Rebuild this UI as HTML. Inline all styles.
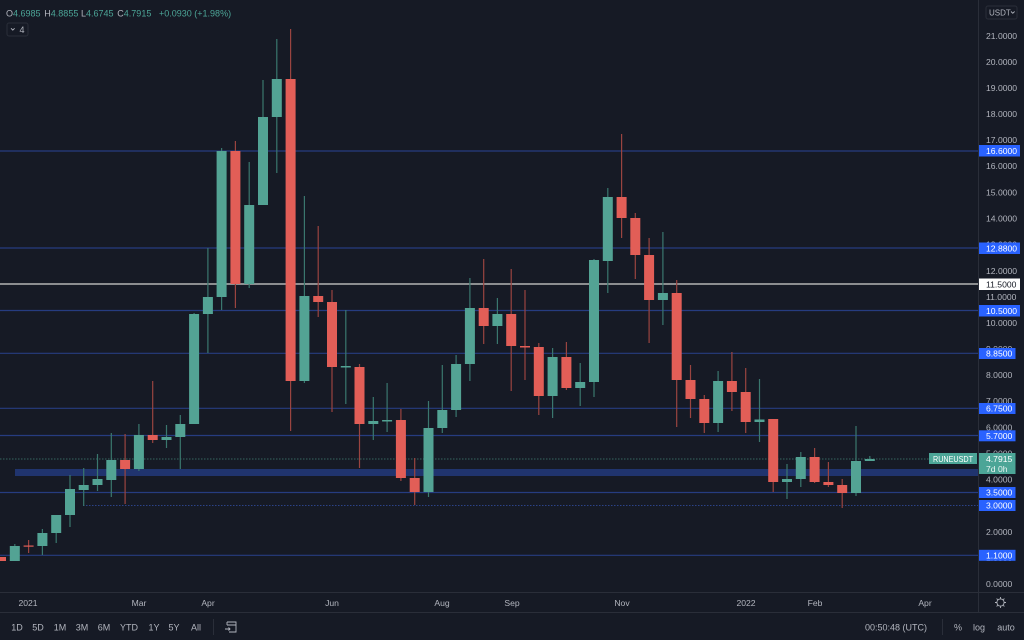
<!DOCTYPE html>
<html><head><meta charset="utf-8"><style>
html,body{margin:0;padding:0;background:#161a25;}
svg{display:block;font-family:"Liberation Sans",sans-serif;}
</style></head><body>
<svg width="1024" height="640" viewBox="0 0 1024 640" xmlns="http://www.w3.org/2000/svg">
<rect width="1024" height="640" fill="#161a25"/>
<!-- separators -->
<line x1="978.5" y1="0" x2="978.5" y2="612" stroke="#2a2e39" stroke-width="1"/>
<line x1="0" y1="592.5" x2="1024" y2="592.5" stroke="#2a2e39" stroke-width="1"/>
<line x1="0" y1="612.5" x2="1024" y2="612.5" stroke="#2a2e39" stroke-width="1"/>

<!-- horizontal levels -->
<g stroke="#263c80" stroke-width="1.2">
<line x1="0" y1="151" x2="978" y2="151"/>
<line x1="0" y1="248" x2="978" y2="248"/>
<line x1="0" y1="310.5" x2="978" y2="310.5"/>
<line x1="0" y1="353.3" x2="978" y2="353.3"/>
<line x1="0" y1="408.3" x2="978" y2="408.3"/>
<line x1="0" y1="435.5" x2="978" y2="435.5"/>
<line x1="0" y1="492.5" x2="978" y2="492.5"/>
<line x1="0" y1="555.3" x2="978" y2="555.3"/>
</g>
<line x1="83" y1="505.5" x2="978" y2="505.5" stroke="#2b4288" stroke-width="1" stroke-dasharray="1.5,1.5"/>
<rect x="15" y="469" width="963" height="7" fill="#20346e"/>
<line x1="0" y1="284" x2="978" y2="284" stroke="#b4b4b4" stroke-width="1.6"/>
<line x1="0" y1="459" x2="978" y2="459" stroke="#35665f" stroke-width="1" stroke-dasharray="1.5,1.5"/>

<!-- wicks -->
<path stroke="#3a776e" stroke-width="1.2" fill="none" d="
M14.8 544V561 M42.4 529V555 M56.2 515V543 M70 475V527 M83.7 468V506 M97.5 454V491 M111.3 433V497
M138.9 424V471 M166.5 425V448 M180.3 415V469 M194.1 313V424 M207.9 248V353 M221.6 148V310
M249.2 162V288 M263 80V205 M276.8 39V173 M304.4 196V383 M345.8 310V404 M373.3 397V440 M387.1 383V432
M428.5 401V497 M442.3 365V433 M456.1 355V417 M469.9 278V381 M497.4 298V344 M552.6 348V418
M580.2 363V406 M594 259V397 M607.8 188V293 M662.9 232V325 M718.1 371V432 M759.5 379V442
M787 464V499 M800.8 452V487 M856 426V496 M869.8 456V461"/>
<path stroke="#9a4440" stroke-width="1.2" fill="none" d="
M28.6 540V553 M125.1 434V504 M152.7 381V443 M235.4 141V308 M290.6 29V431 M318.2 226V317
M332 290V412 M359.5 364V468 M400.9 409V481 M414.7 458V505 M483.7 259V344 M511.2 269V391
M525 290V380 M538.8 343V415 M566.4 342V390 M621.6 134V238 M635.3 213V279 M649.1 238V343
M676.7 280V427 M690.5 365V418 M704.3 395V433 M731.9 352V411 M745.7 368V433 M773.2 419V492
M814.6 448V483 M828.4 462V487 M842.2 479V508"/>

<!-- green bodies -->
<g fill="#53a394">
<rect x="9.8" y="546" width="10" height="15"/>
<rect x="37.4" y="533" width="10" height="13"/>
<rect x="51.2" y="515" width="10" height="18"/>
<rect x="65" y="489" width="10" height="26"/>
<rect x="78.7" y="485" width="10" height="5"/>
<rect x="92.5" y="479" width="10" height="6"/>
<rect x="106.3" y="460" width="10" height="20"/>
<rect x="133.9" y="435" width="10" height="34"/>
<rect x="161.5" y="437" width="10" height="3"/>
<rect x="175.3" y="424" width="10" height="13"/>
<rect x="189.1" y="314" width="10" height="110"/>
<rect x="202.9" y="297" width="10" height="17"/>
<rect x="216.6" y="151" width="10" height="146"/>
<rect x="244.2" y="205" width="10" height="79"/>
<rect x="258" y="117" width="10" height="88"/>
<rect x="271.8" y="79" width="10" height="38"/>
<rect x="299.4" y="296" width="10" height="85"/>
<rect x="340.8" y="366" width="10" height="1.5"/>
<rect x="368.3" y="421" width="10" height="3"/>
<rect x="382.1" y="420" width="10" height="1.5"/>
<rect x="423.5" y="428" width="10" height="64"/>
<rect x="437.3" y="410" width="10" height="18"/>
<rect x="451.1" y="364" width="10" height="46"/>
<rect x="464.9" y="308" width="10" height="56"/>
<rect x="492.4" y="314" width="10" height="12"/>
<rect x="547.6" y="357" width="10" height="39"/>
<rect x="575.2" y="382" width="10" height="6"/>
<rect x="589" y="260" width="10" height="122"/>
<rect x="602.8" y="197" width="10" height="64"/>
<rect x="657.9" y="293" width="10" height="7"/>
<rect x="713.1" y="381" width="10" height="42"/>
<rect x="754.5" y="419.5" width="10" height="2.5"/>
<rect x="782" y="479" width="10" height="3"/>
<rect x="795.8" y="457" width="10" height="22"/>
<rect x="851" y="461" width="10" height="32"/>
<rect x="864.8" y="459" width="10" height="2"/>
</g>
<!-- red bodies -->
<g fill="#e25e57">
<rect x="-4" y="557" width="10" height="4"/>
<rect x="23.6" y="545.5" width="10" height="1.2"/>
<rect x="120.1" y="460" width="10" height="9"/>
<rect x="147.7" y="435" width="10" height="5"/>
<rect x="230.4" y="151" width="10" height="133"/>
<rect x="285.6" y="79" width="10" height="302"/>
<rect x="313.2" y="296" width="10" height="6"/>
<rect x="327" y="302" width="10" height="65"/>
<rect x="354.5" y="367" width="10" height="57"/>
<rect x="395.9" y="420" width="10" height="58"/>
<rect x="409.7" y="478" width="10" height="14"/>
<rect x="478.7" y="308" width="10" height="18"/>
<rect x="506.2" y="314" width="10" height="32"/>
<rect x="520" y="346" width="10" height="1.5"/>
<rect x="533.8" y="347" width="10" height="49"/>
<rect x="561.4" y="357" width="10" height="31"/>
<rect x="616.6" y="197" width="10" height="21"/>
<rect x="630.3" y="218" width="10" height="37"/>
<rect x="644.1" y="255" width="10" height="45"/>
<rect x="671.7" y="293" width="10" height="87"/>
<rect x="685.5" y="380" width="10" height="19"/>
<rect x="699.3" y="399" width="10" height="24"/>
<rect x="726.9" y="381" width="10" height="11"/>
<rect x="740.7" y="392" width="10" height="30"/>
<rect x="768.2" y="419" width="10" height="63"/>
<rect x="809.6" y="457" width="10" height="25"/>
<rect x="823.4" y="482" width="10" height="3"/>
<rect x="837.2" y="485" width="10" height="8"/>
</g>

<!-- price scale ticks -->
<g fill="#b2b5be" font-size="8.6">
<text x="986" y="39">21.0000</text>
<text x="986" y="65">20.0000</text>
<text x="986" y="91">19.0000</text>
<text x="986" y="117">18.0000</text>
<text x="986" y="143">17.0000</text>
<text x="986" y="169">16.0000</text>
<text x="986" y="195.5">15.0000</text>
<text x="986" y="221.5">14.0000</text>
<text x="986" y="247.5">13.0000</text>
<text x="986" y="274">12.0000</text>
<text x="986" y="300">11.0000</text>
<text x="986" y="326">10.0000</text>
<text x="986" y="352">9.0000</text>
<text x="986" y="378">8.0000</text>
<text x="986" y="404">7.0000</text>
<text x="986" y="430.5">6.0000</text>
<text x="986" y="456.5">5.0000</text>
<text x="986" y="482.5">4.0000</text>
<text x="986" y="508.5">3.0000</text>
<text x="986" y="535">2.0000</text>
<text x="986" y="561">1.0000</text>
<text x="986" y="587">0.0000</text>
</g>

<!-- level labels -->
<g font-size="8.6">
<rect x="979" y="145" width="41" height="11.5" fill="#2962ff"/><text x="986" y="154" fill="#fff">16.6000</text>
<rect x="979" y="242.5" width="41" height="11.5" fill="#2962ff"/><text x="986" y="251.3" fill="#fff">12.8800</text>
<rect x="979" y="278.5" width="41" height="11.5" fill="#ffffff"/><text x="986" y="287.3" fill="#131722">11.5000</text>
<rect x="979" y="305" width="41" height="11.5" fill="#2962ff"/><text x="986" y="313.8" fill="#fff">10.5000</text>
<rect x="979" y="348" width="36.5" height="11" fill="#2962ff"/><text x="986" y="356.6" fill="#fff">8.8500</text>
<rect x="979" y="403" width="36.5" height="11" fill="#2962ff"/><text x="986" y="411.6" fill="#fff">6.7500</text>
<rect x="979" y="430.3" width="36.5" height="11" fill="#2962ff"/><text x="986" y="438.9" fill="#fff">5.7000</text>
<rect x="979" y="487" width="36.5" height="11" fill="#2962ff"/><text x="986" y="495.6" fill="#fff">3.5000</text>
<rect x="979" y="500" width="36.5" height="11" fill="#2962ff"/><text x="986" y="508.6" fill="#fff">3.0000</text>
<rect x="979" y="549.8" width="36.5" height="11" fill="#2962ff"/><text x="986" y="558.4" fill="#fff">1.1000</text>
<rect x="979" y="453" width="36.5" height="21" fill="#4ca597"/>
<text x="986" y="461.8" fill="#fff">4.7915</text>
<text x="986" y="471.8" fill="#e6f3f1">7d 0h</text>
<rect x="929" y="453" width="48" height="11" fill="#4ca597"/>
<text x="933" y="461.8" fill="#fff" font-size="8.2" textLength="40" lengthAdjust="spacingAndGlyphs">RUNEUSDT</text>
</g>

<!-- USDT button -->
<rect x="986" y="6" width="31" height="13" rx="2" fill="none" stroke="#2a2e39"/>
<text x="989" y="15.5" fill="#b2b5be" font-size="8">USDT</text>
<path d="M1011 11.5l1.8 1.8 1.8-1.8" stroke="#b2b5be" stroke-width="0.9" fill="none"/>

<!-- header OHLC -->
<g font-size="9">
<text x="6" y="16.5" fill="#b2b5be">O<tspan fill="#4ca597">4.6985</tspan></text>
<text x="44.3" y="16.5" fill="#b2b5be">H<tspan fill="#4ca597">4.8855</tspan></text>
<text x="81" y="16.5" fill="#b2b5be">L<tspan fill="#4ca597">4.6745</tspan></text>
<text x="117.3" y="16.5" fill="#b2b5be">C<tspan fill="#4ca597">4.7915</tspan></text>
<text x="159" y="16.5" fill="#4ca597">+0.0930</text>
<text x="194.3" y="16.5" fill="#4ca597">(+1.98%)</text>
</g>
<rect x="7" y="23" width="21" height="13" rx="2" fill="none" stroke="#2a2e39"/>
<path d="M11 28.3l1.8 1.8 1.8-1.8" stroke="#b2b5be" stroke-width="0.9" fill="none"/>
<text x="19.5" y="33" fill="#b2b5be" font-size="9">4</text>

<!-- time axis -->
<g fill="#b2b5be" font-size="8.6" text-anchor="middle">
<text x="28" y="606">2021</text>
<text x="139" y="606">Mar</text>
<text x="208" y="606">Apr</text>
<text x="332" y="606">Jun</text>
<text x="442" y="606">Aug</text>
<text x="512" y="606">Sep</text>
<text x="622" y="606">Nov</text>
<text x="746" y="606">2022</text>
<text x="815" y="606">Feb</text>
<text x="925" y="606">Apr</text>
</g>
<!-- gear -->
<g stroke="#b2b5be" stroke-width="0.9" fill="none">
<circle cx="1000.5" cy="602.5" r="3.6"/>
<path d="M1000.5 597v1.6M1000.5 606.4v1.6M995 602.5h1.6M1004.4 602.5h1.6M996.6 598.6l1.1 1.1M1003.3 605.3l1.1 1.1M996.6 606.4l1.1-1.1M1003.3 599.7l1.1-1.1"/>
</g>

<!-- bottom toolbar -->
<g fill="#b2b5be" font-size="9" text-anchor="middle">
<text x="17" y="630.5">1D</text>
<text x="38" y="630.5">5D</text>
<text x="60" y="630.5">1M</text>
<text x="82" y="630.5">3M</text>
<text x="104" y="630.5">6M</text>
<text x="129" y="630.5">YTD</text>
<text x="154" y="630.5">1Y</text>
<text x="174" y="630.5">5Y</text>
<text x="196" y="630.5">All</text>
<text x="896" y="630.5">00:50:48 (UTC)</text>
<text x="958" y="630.5">%</text>
<text x="979" y="630.5">log</text>
<text x="1006" y="630.5">auto</text>
</g>
<line x1="213.5" y1="619" x2="213.5" y2="635" stroke="#2a2e39"/>
<line x1="942.5" y1="619" x2="942.5" y2="635" stroke="#2a2e39"/>
<g stroke="#b2b5be" stroke-width="0.9" fill="none">
<path d="M227 622h9v10h-7M227 622v3M227 625h9"/>
<path d="M225 629h5M228.5 627.5l1.5 1.5-1.5 1.5"/>
</g>
</svg>
</body></html>
